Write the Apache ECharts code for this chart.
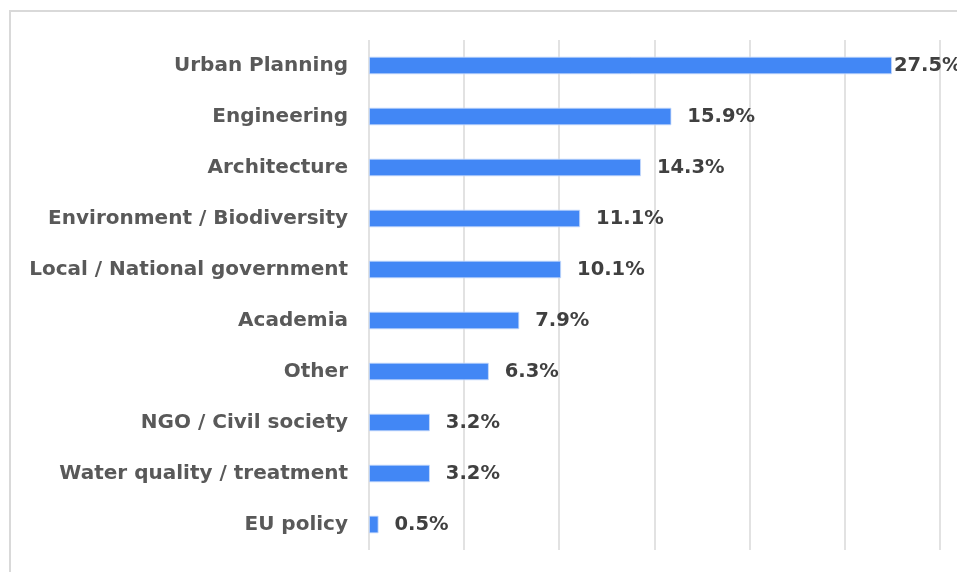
<!DOCTYPE html>
<html>
<head>
<meta charset="utf-8">
<script src="https://cdn.jsdelivr.net/npm/echarts@6/dist/echarts.min.js"></script>
<style>
html,body{margin:0;padding:0;background:#fff;}
#c{width:957px;height:572px;}
</style>
</head>
<body>
<div id="c"></div>
<script>
const categories = ["Urban Planning","Engineering","Architecture","Environment / Biodiversity","Local / National government","Academia","Other","NGO / Civil society","Water quality / treatment","EU policy"];
const values = [27.5,15.9,14.3,11.1,10.1,7.9,6.3,3.2,3.2,0.5];
const axisMin = 0, axisMax = 30, axisStep = 5;

const chart = echarts.init(document.getElementById('c'), null, {renderer:'canvas'});
const font = 'DejaVu Sans';
chart.setOption({
  animation:false,
  backgroundColor:'#fff',
  graphic:[{type:'rect',shape:{x:10,y:11,width:980,height:600},style:{fill:'none',stroke:'#d9d9d9',lineWidth:2},silent:true,z:-10}],
  grid:{left:369,right:17.5,top:40,bottom:22},
  xAxis:{type:'value',min:axisMin,max:axisMax,interval:axisStep,
    axisLabel:{show:false},axisLine:{show:false},axisTick:{show:false},
    splitLine:{show:true,lineStyle:{color:'#d9d9d9',width:1.5}}},
  yAxis:{type:'category',data:categories,inverse:true,
    axisLine:{show:false},axisTick:{show:false},
    axisLabel:{margin:21,color:'#595959',fontFamily:font,fontWeight:'bold',fontSize:20}},
  series:[{type:'bar',barWidth:17.5,
    data:values.map((v,i)=> i===0 ? {value:v,label:{distance:2}} : v),
    itemStyle:{color:'#4287f5',borderColor:'#c9dcfb',borderWidth:0.8},
    label:{show:true,position:'right',distance:16,formatter:p=>p.value.toFixed(1)+'%',
      color:'#404040',fontFamily:font,fontWeight:'bold',fontSize:19.5}}]
});
</script>
</body>
</html>
